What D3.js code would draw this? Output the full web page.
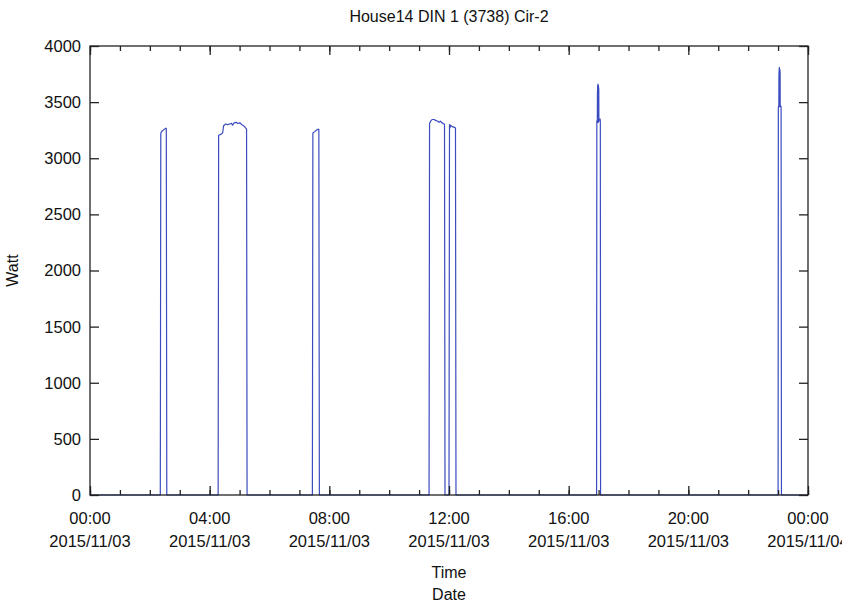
<!DOCTYPE html>
<html>
<head>
<meta charset="utf-8">
<script src="https://cdn.jsdelivr.net/npm/d3@7"></script>
<style>
  body { margin: 0; background: #fff; }
  svg { font-family: "Liberation Sans", Arial, sans-serif; }
</style>
</head>
<body>
<svg id="chart" width="842" height="606"></svg>
<script>
  "use strict";

  // chart text
  var title = "House14 DIN 1 (3738) Cir-2";
  var yLabel = "Watt";
  var xLabels = ["Time", "Date"];

  // axis ticks
  var yTicks = [0, 500, 1000, 1500, 2000, 2500, 3000, 3500, 4000];
  var xMajorHours = [0, 4, 8, 12, 16, 20, 24];
  var dayStart = "2015-11-03T00:00:00";
  var dayEnd = "2015-11-04T00:00:00";

  // readings, time of day and watts
  var times = [
    "00:00:00", "02:21:00",
    "02:22:00", "02:24:00", "02:28:00", "02:32:00", "02:33:00", "02:34:00",
    "04:17:00", "04:18:00", "04:23:00", "04:26:00", "04:28:00", "04:32:00", "04:36:00",
    "04:40:00", "04:44:00", "04:46:00", "04:49:00", "04:53:00", "04:57:00", "05:01:00",
    "05:04:00", "05:08:00", "05:12:00", "05:14:00", "05:15:00",
    "07:26:00", "07:27:00", "07:30:00", "07:34:00", "07:38:00", "07:39:00", "07:40:00",
    "11:20:00", "11:21:00", "11:23:00", "11:26:00", "11:30:00", "11:34:00", "11:38:00",
    "11:40:00", "11:43:00", "11:46:00", "11:50:00", "11:51:00", "11:52:00",
    "12:00:00", "12:01:00", "12:02:00", "12:03:00", "12:05:00", "12:08:00", "12:11:00",
    "12:13:00", "12:14:00",
    "16:56:00", "16:56:30", "16:57:30", "16:57:45", "16:57:55", "16:58:05", "16:58:15",
    "16:58:25", "16:58:35", "16:58:45", "16:58:55", "16:59:05", "16:59:15", "16:59:25",
    "16:59:35", "16:59:45", "16:59:55", "17:00:05", "17:00:15", "17:00:25", "17:00:35",
    "17:00:45", "17:01:00", "17:01:30", "17:03:00", "17:03:30", "17:04:00",
    "23:00:00", "23:00:30", "23:01:30", "23:01:45", "23:01:55", "23:02:05", "23:02:15",
    "23:02:25", "23:02:35", "23:02:45", "23:02:55", "23:03:05", "23:03:15", "23:03:25",
    "23:03:35", "23:03:45", "23:03:55", "23:04:05", "23:04:15", "23:04:30", "23:06:00",
    "23:06:45", "23:59:59"
  ];
  var watts = [
    0, 0,
    3225, 3240, 3255, 3268, 3265, 0,
    0, 3205, 3215, 3225, 3290, 3305, 3300,
    3305, 3310, 3295, 3315, 3320, 3310, 3315,
    3300, 3290, 3270, 3260, 0,
    0, 3225, 3235, 3250, 3260, 3255, 0,
    0, 3310, 3330, 3345, 3345, 3335, 3330,
    3320, 3330, 3315, 3305, 3300, 0,
    0, 3300, 3270, 3295, 3285, 3280, 3275,
    3270, 0,
    0, 3330, 3340, 3600, 3330, 3640, 3320,
    3650, 3330, 3660, 3320, 3650, 3330, 3640,
    3320, 3650, 3330, 3630, 3340, 3620, 3330,
    3340, 3340, 3340, 3350, 3330, 0,
    0, 3450, 3470, 3760, 3460, 3790, 3470,
    3810, 3460, 3800, 3470, 3790, 3460, 3780,
    3470, 3790, 3460, 3770, 3470, 3470, 3460,
    0, 0
  ];

  var svg = d3.select("#chart");
  var margin = { left: 90, right: 34, top: 46, bottom: 111 };
  var width = 842 - margin.left - margin.right;
  var height = 606 - margin.top - margin.bottom;

  var parseDay = d3.timeParse("%Y-%m-%dT%H:%M:%S");
  var x = d3.scaleTime()
    .domain([parseDay(dayStart), parseDay(dayEnd)])
    .range([margin.left, margin.left + width]);
  var y = d3.scaleLinear()
    .domain([0, 4000])
    .range([margin.top + height, margin.top]);

  var data = times.map(function (t, i) {
    return { t: parseDay("2015-11-03T" + t), w: watts[i] };
  });

  var hourTicks = d3.range(0, 25).map(function (h) { return d3.timeHour.offset(x.domain()[0], h); });
  var majorTicks = xMajorHours.map(function (h) { return d3.timeHour.offset(x.domain()[0], h); });

  // series
  var line = d3.line()
    .x(function (d) { return x(d.t); })
    .y(function (d) { return y(d.w); });

  svg.append("path")
    .datum(data)
    .attr("fill", "none")
    .attr("stroke", "#3a4cbf")
    .attr("stroke-width", 1.2)
    .attr("stroke-linejoin", "round")
    .attr("d", line);

  // frame axes, ticks inside
  var tickStyle = function (g) {
    g.select(".domain").remove();
    g.selectAll(".tick line").attr("stroke", "#222").attr("stroke-width", 1.3);
  };

  svg.append("g")
    .attr("transform", "translate(0," + (margin.top + height) + ")")
    .call(d3.axisBottom(x).tickValues(hourTicks).tickSize(-5).tickFormat(""))
    .call(tickStyle);
  svg.append("g")
    .attr("transform", "translate(0," + (margin.top + height) + ")")
    .call(d3.axisBottom(x).tickValues(majorTicks).tickSize(-9).tickFormat(""))
    .call(tickStyle);
  svg.append("g")
    .attr("transform", "translate(0," + margin.top + ")")
    .call(d3.axisTop(x).tickValues(hourTicks).tickSize(-5).tickFormat(""))
    .call(tickStyle);
  svg.append("g")
    .attr("transform", "translate(0," + margin.top + ")")
    .call(d3.axisTop(x).tickValues(majorTicks).tickSize(-9).tickFormat(""))
    .call(tickStyle);
  svg.append("g")
    .attr("transform", "translate(" + margin.left + ",0)")
    .call(d3.axisLeft(y).tickValues(yTicks).tickSize(-9).tickFormat(""))
    .call(tickStyle);
  svg.append("g")
    .attr("transform", "translate(" + (margin.left + width) + ",0)")
    .call(d3.axisRight(y).tickValues(yTicks).tickSize(-9).tickFormat(""))
    .call(tickStyle);

  svg.append("rect")
    .attr("x", margin.left).attr("y", margin.top)
    .attr("width", width).attr("height", height)
    .attr("fill", "none").attr("stroke", "#222").attr("stroke-width", 1.3);

  // tick labels
  svg.append("g").selectAll("text")
    .data(yTicks).enter().append("text")
    .attr("x", margin.left - 9)
    .attr("y", function (d) { return y(d); })
    .attr("dy", "0.36em")
    .attr("text-anchor", "end")
    .attr("font-size", 16.5)
    .attr("fill", "#111")
    .text(function (d) { return d; });

  var fmtTime = d3.timeFormat("%H:%M");
  var fmtDate = d3.timeFormat("%Y/%m/%d");
  var xl = svg.append("g").selectAll("g")
    .data(majorTicks).enter().append("g")
    .attr("transform", function (d) { return "translate(" + x(d) + ",0)"; });
  xl.append("text")
    .attr("y", 524).attr("text-anchor", "middle")
    .attr("font-size", 16.5).attr("fill", "#111")
    .text(function (d) { return fmtTime(d); });
  xl.append("text")
    .attr("y", 547).attr("text-anchor", "middle")
    .attr("font-size", 16.5).attr("fill", "#111")
    .text(function (d) { return fmtDate(d); });

  // titles
  svg.append("text")
    .attr("x", margin.left + width / 2).attr("y", 22)
    .attr("text-anchor", "middle").attr("font-size", 16).attr("fill", "#111")
    .text(title);
  svg.append("text")
    .attr("transform", "translate(18," + (margin.top + height / 2) + ") rotate(-90)")
    .attr("text-anchor", "middle").attr("font-size", 16).attr("fill", "#111")
    .text(yLabel);
  svg.append("g").selectAll("text")
    .data(xLabels).enter().append("text")
    .attr("x", margin.left + width / 2)
    .attr("y", function (d, i) { return 578 + i * 22; })
    .attr("text-anchor", "middle").attr("font-size", 16).attr("fill", "#111")
    .text(function (d) { return d; });
</script>
</body>
</html>
